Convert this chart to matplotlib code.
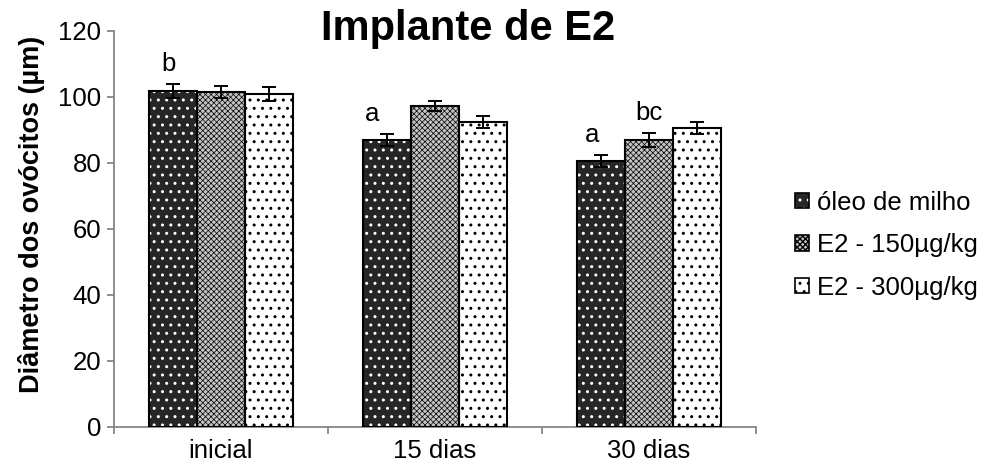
import matplotlib
matplotlib.use('Agg')
import matplotlib.pyplot as plt
import numpy as np
from matplotlib.patches import Patch
from matplotlib.legend_handler import HandlerTuple

plt.rcParams['font.family'] = ['Liberation Sans', 'DejaVu Sans']

# data
categorias = ['inicial', '15 dias', '30 dias']
grupos = ['óleo de milho', 'E2 - 150µg/kg', 'E2 - 300µg/kg']
oleo = [101.8, 87.0, 80.6]
e2_150 = [101.5, 97.3, 87.0]
e2_300 = [100.9, 92.4, 90.6]
erro_oleo = [2.1, 1.7, 1.8]
erro_150 = [1.8, 1.5, 2.1]
erro_300 = [2.0, 1.7, 1.7]

# significance letters: (category, group, letter)
letras = [(0, 0, 'b'), (1, 0, 'a'), (2, 0, 'a'), (2, 1, 'bc')]
letras_dx = [-0.023, -0.072, -0.04, 0.0]

medias = [oleo, e2_150, e2_300]
erros = [erro_oleo, erro_150, erro_300]
cores = ['#262626', '#c4c4c4', 'white']
hatches = ['..', 'xxxxxx', '..']
hatch_cores = ['white', 'black', 'black']
hatch_lw = [1.0, 0.5, 1.0]

fig = plt.figure(figsize=(9.89, 4.70), dpi=100)
ax = fig.add_axes([114 / 989, 43 / 470, 642 / 989, 396 / 470])

x = np.arange(len(categorias))
width = 0.224

handles = []
for i in range(3):
    pos = x + (i - 1) * width
    plt.rcParams['hatch.linewidth'] = hatch_lw[i]
    # fill + hatch (hatch takes the edge colour), then a black outline on top
    ax.bar(pos, medias[i], width=width, color=cores[i], hatch=hatches[i],
           edgecolor=hatch_cores[i], linewidth=0, zorder=2)
    ax.bar(pos, medias[i], width=width, fill=False, edgecolor='black',
           linewidth=1.5, zorder=3)
    ax.errorbar(pos, medias[i], yerr=erros[i], fmt='none', ecolor='black',
                elinewidth=1.4, capsize=5, capthick=1.4, zorder=4)
    h_fill = Patch(facecolor=cores[i], hatch=hatches[i], edgecolor=hatch_cores[i], linewidth=0)
    h_edge = Patch(fill=False, edgecolor='black', linewidth=1.2)
    handles.append((h_fill, h_edge))

for (c, g, txt), dx in zip(letras, letras_dx):
    xp = x[c] + (g - 1) * width + dx
    yp = medias[g][c] + erros[g][c] + 4.0
    ax.text(xp, yp, txt, ha='center', va='baseline', fontsize=18.5)

ax.set_ylim(0, 120)
ax.set_yticks(np.arange(0, 121, 20))
ax.set_xlim(-0.5, 2.5)
ax.set_xticks([-0.5, 0.5, 1.5, 2.5])
ax.set_xticklabels([])
ax.set_xticks(x, minor=True)
ax.set_xticklabels(categorias, minor=True)

for s in ['top', 'right']:
    ax.spines[s].set_visible(False)
for s in ['left', 'bottom']:
    ax.spines[s].set_color('#868686')
    ax.spines[s].set_linewidth(1.3)

ax.tick_params(axis='both', which='major', direction='out', length=5,
               width=1.3, color='#868686', labelsize=18.5, pad=4)
ax.tick_params(axis='x', which='minor', length=0, labelsize=18.5, pad=9)

fig.text(468 / 989, 1 - 40 / 470, 'Implante de E2', ha='center', va='baseline',
         fontsize=30, fontweight='bold')
fig.text(32 / 989, 1 - 214 / 470, 'Diâmetro dos ovócitos (µm)', rotation=90,
         ha='center', va='center', fontsize=19.5, fontweight='bold')

fig.legend(handles, grupos, handler_map={tuple: HandlerTuple(ndivide=1, pad=0)},
           loc='center left', bbox_to_anchor=(795 / 989, 1 - 245 / 470),
           frameon=False, fontsize=18.5, handlelength=0.55, handleheight=0.55,
           handletextpad=0.3, labelspacing=0.72, borderpad=0, borderaxespad=0)

fig.savefig('out.png', dpi=100)
